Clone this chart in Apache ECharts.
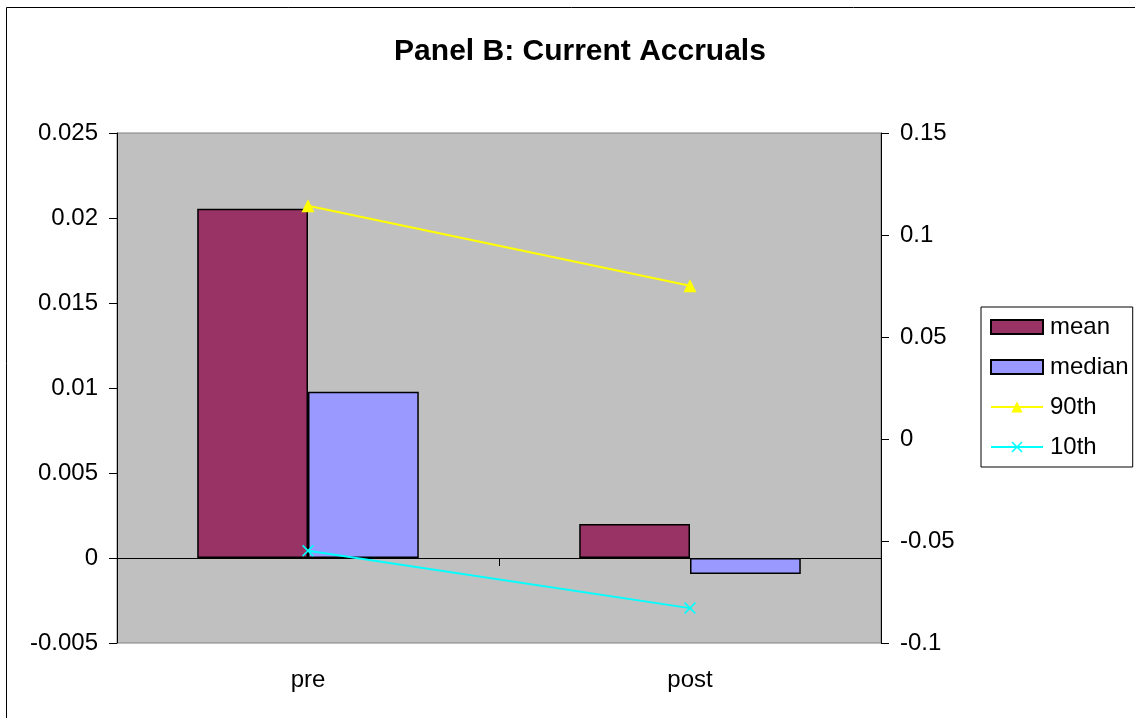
<!DOCTYPE html>
<html>
<head>
<meta charset="utf-8">
<script src="https://cdn.jsdelivr.net/npm/echarts@6/dist/echarts.min.js"></script>
<style>
  html, body { margin: 0; padding: 0; background: #fff; }
  #chart { width: 1135px; height: 718px; }
</style>
</head>
<body>
<div id="chart"></div>
<script>
// Panel B — current accruals, pre vs post
const categories = ['pre', 'post'];
const meanValues = [0.02055, 0.0020];
const medianValues = [0.00978, -0.00094];
const p90Values = [0.1143, 0.0751];
const p10Values = [-0.0548, -0.0829];

const FONT = 'Liberation Sans, Arial, sans-serif';
const xSymbol = 'path://M0,1L1,0L5,4L9,0L10,1L6,5L10,9L9,10L5,6L1,10L0,9L4,5Z';

const chart = echarts.init(document.getElementById('chart'));

chart.setOption({
  animation: false,
  textStyle: { fontFamily: FONT, color: '#000' },
  title: {
    text: 'Panel B: Current Accruals',
    left: 575,
    top: 32,
    textAlign: 'center',
    textStyle: { fontFamily: FONT, fontSize: 30, fontWeight: 'bold', color: '#000' }
  },
  graphic: [{
    type: 'rect',
    shape: { x: 6.5, y: 7.5, width: 1300, height: 900 },
    style: { fill: 'none', stroke: '#000', lineWidth: 1 },
    silent: true
  }],
  legend: {
    left: 981,
    top: 307,
    orient: 'vertical',
    padding: [8, 4, 8, 9],
    itemWidth: 52,
    itemHeight: 14,
    itemGap: 16,
    borderColor: '#000',
    borderWidth: 1,
    backgroundColor: '#fff',
    textStyle: { fontFamily: FONT, fontSize: 24, color: '#000', padding: [0, 0, 0, 2] },
    data: [
      { name: 'mean', icon: 'rect' },
      { name: 'median', icon: 'rect' },
      '90th',
      '10th'
    ]
  },
  grid: {
    left: 117,
    right: 254,
    top: 133,
    bottom: 75,
    show: true,
    backgroundColor: '#c0c0c0',
    borderColor: '#808080',
    borderWidth: 1
  },
  xAxis: [{
    type: 'category',
    data: categories,
    position: 'bottom',
    axisLine: { show: false, onZero: false },
    axisTick: { show: false },
    axisLabel: { margin: 25, fontSize: 24, color: '#000', fontFamily: FONT }
  }, {
    type: 'category',
    data: categories,
    position: 'bottom',
    axisLine: { show: true, onZero: true, onZeroAxisIndex: 0, lineStyle: { color: '#000', width: 1 } },
    axisTick: { show: true, length: 8, lineStyle: { color: '#000' } },
    axisLabel: { show: false }
  }],
  yAxis: [{
    type: 'value',
    min: -0.005,
    max: 0.025,
    interval: 0.005,
    position: 'left',
    splitLine: { show: false },
    axisLine: { show: true, lineStyle: { color: '#000', width: 1 } },
    axisTick: { show: true, length: 8, lineStyle: { color: '#000' } },
    axisLabel: { margin: 19, fontSize: 24, color: '#000', fontFamily: FONT }
  }, {
    type: 'value',
    min: -0.1,
    max: 0.15,
    interval: 0.05,
    position: 'right',
    splitLine: { show: false },
    axisLine: { show: true, lineStyle: { color: '#000', width: 1 } },
    axisTick: { show: true, length: 8, lineStyle: { color: '#000' } },
    axisLabel: { margin: 19, fontSize: 24, color: '#000', fontFamily: FONT }
  }],
  series: [{
    name: 'mean',
    type: 'bar',
    data: meanValues,
    barGap: '0%',
    barCategoryGap: '42%',
    itemStyle: { color: '#993366', borderColor: '#000', borderWidth: 1.5 }
  }, {
    name: 'median',
    type: 'bar',
    data: medianValues,
    itemStyle: { color: '#9999ff', borderColor: '#000', borderWidth: 1.5 }
  }, {
    name: '90th',
    type: 'line',
    yAxisIndex: 1,
    data: p90Values,
    symbol: 'triangle',
    symbolSize: 13,
    lineStyle: { color: '#ffff00', width: 2 },
    itemStyle: { color: '#ffff00' },
    z: 5
  }, {
    name: '10th',
    type: 'line',
    yAxisIndex: 1,
    data: p10Values,
    symbol: xSymbol,
    symbolSize: 12,
    lineStyle: { color: '#00ffff', width: 2 },
    itemStyle: { color: '#00ffff' },
    z: 5
  }]
});
</script>
</body>
</html>
